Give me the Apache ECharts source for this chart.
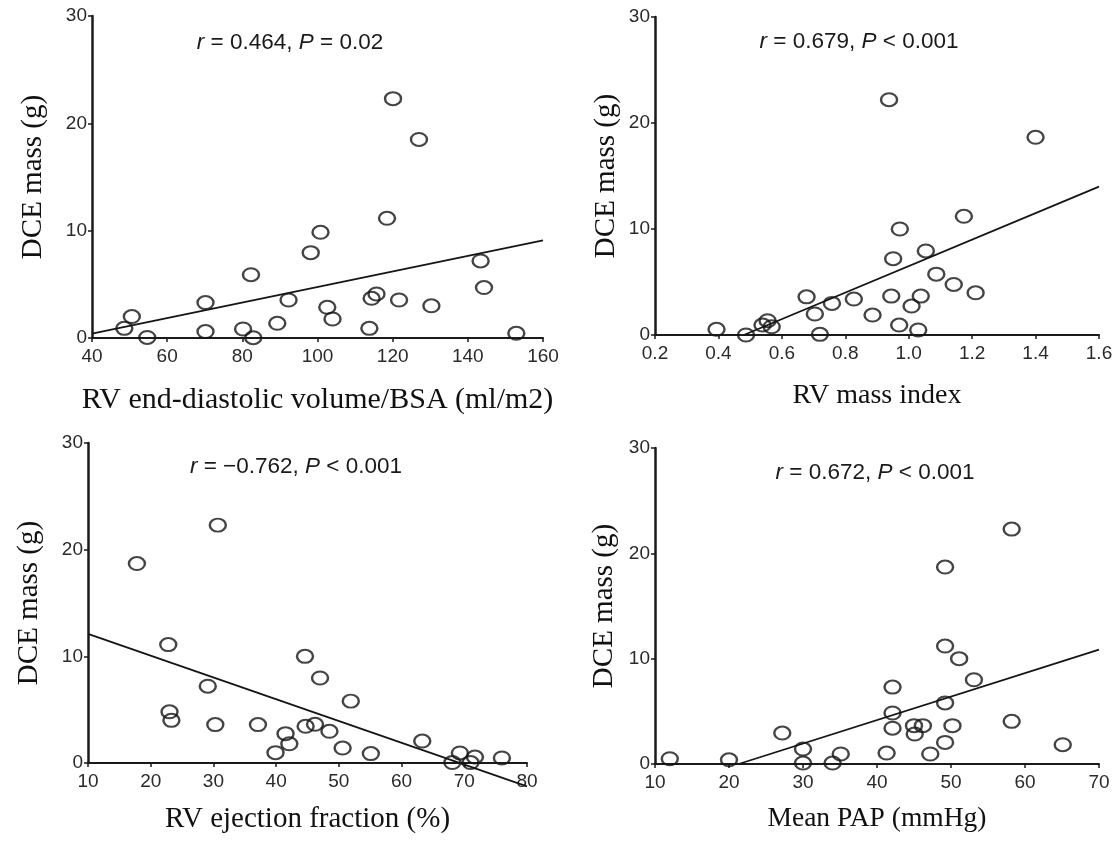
<!DOCTYPE html>
<html>
<head>
<meta charset="utf-8">
<script src="https://cdn.jsdelivr.net/npm/echarts@6/dist/echarts.min.js"></script>
<style>
html,body{margin:0;padding:0;background:#fff;}
#chart{width:1117px;height:847px;}
</style>
</head>
<body>
<div id="chart"></div>
<script>
// Panel A: RV end-diastolic volume/BSA vs DCE mass
const edvX = [48.6, 50.6, 54.7, 70.2, 70.2, 82.3, 80.2, 82.9, 89.3, 92.3, 98.2, 100.8, 120.1, 127.0, 118.5, 143.4, 144.3, 115.7, 114.4, 121.7, 130.3, 102.6, 104.0, 113.8, 152.9];
const edvY = [0.9, 2.0, 0.05, 3.3, 0.6, 5.9, 0.84, 0.03, 1.37, 3.54, 7.95, 9.85, 22.3, 18.5, 11.15, 7.18, 4.7, 4.1, 3.7, 3.54, 3.0, 2.86, 1.77, 0.9, 0.44];
const edvFitX = [40, 160];
const edvFitY = [0.4, 9.1];

// Panel B: RV mass index vs DCE mass
const rvmiX = [0.394, 0.487, 0.539, 0.555, 0.568, 0.678, 0.704, 0.72, 0.758, 0.827, 0.886, 0.938, 0.97, 0.945, 0.951, 0.972, 1.009, 1.038, 1.03, 1.054, 1.087, 1.142, 1.174, 1.211, 1.40];
const rvmiY = [0.54, 0.0, 0.94, 1.35, 0.78, 3.6, 1.98, 0.06, 2.98, 3.39, 1.88, 22.2, 0.94, 3.67, 7.2, 10.0, 2.73, 3.67, 0.47, 7.93, 5.74, 4.77, 11.2, 3.98, 18.65];
const rvmiFitX = [0.48, 1.6];
const rvmiFitY = [0.0, 14.0];

// Panel C: RV ejection fraction vs DCE mass
const efX = [17.8, 30.7, 22.8, 29.1, 23.0, 23.3, 30.3, 37.1, 41.5, 42.1, 39.9, 44.6, 44.7, 47.0, 51.9, 46.2, 48.5, 50.6, 55.1, 63.3, 69.3, 68.1, 71.7, 71.0, 76.0];
const efY = [18.7, 22.3, 11.1, 7.2, 4.8, 4.0, 3.6, 3.6, 2.75, 1.8, 0.97, 10.0, 3.44, 7.97, 5.8, 3.63, 2.97, 1.4, 0.88, 2.06, 0.94, 0.04, 0.56, 0.04, 0.47];
const efFitX = [10, 80];
const efFitY = [12.1, -2.2];

// Panel D: Mean PAP vs DCE mass
const papX = [12.0, 20.0, 27.2, 30.0, 30.0, 34.0, 35.1, 58.2, 49.2, 49.2, 51.1, 53.1, 42.1, 49.2, 42.1, 42.1, 45.0, 46.2, 45.1, 50.2, 49.2, 41.3, 47.2, 58.2, 65.1];
const papY = [0.5, 0.4, 2.94, 1.42, 0.09, 0.09, 0.95, 22.3, 18.7, 11.2, 10.0, 8.0, 7.3, 5.8, 4.84, 3.4, 3.64, 3.64, 2.85, 3.64, 2.05, 1.04, 0.95, 4.05, 1.83];
const papFitX = [21.3, 70];
const papFitY = [0.0, 10.85];

const yName = 'DCE mass (g)';
const xNames = ['RV end-diastolic volume/BSA (ml/m2)', 'RV mass index', 'RV ejection fraction (%)', 'Mean PAP (mmHg)'];
const stats = ['{i|r} = 0.464, {i|P} = 0.02', '{i|r} = 0.679, {i|P} < 0.001', '{i|r} = \u22120.762, {i|P} < 0.001', '{i|r} = 0.672, {i|P} < 0.001'];
const xRanges = [[40, 160, 20], [0.2, 1.6, 0.2], [10, 80, 10], [10, 70, 10]];

const zip = (a, b) => a.map((v, i) => [v, b[i]]);
const pts = [zip(edvX, edvY), zip(rvmiX, rvmiY), zip(efX, efY), zip(papX, papY)];
const fits = [zip(edvFitX, edvFitY), zip(rvmiFitX, rvmiFitY), zip(efFitX, efFitY), zip(papFitX, papFitY)];

const grids = [
  {left: 92, top: 16, width: 451, height: 322},
  {left: 655, top: 17, width: 444, height: 318},
  {left: 88, top: 443, width: 439, height: 320},
  {left: 655, top: 448, width: 444, height: 316}
];
const yGaps = [44, 34, 44, 36];
const xGaps = [47, 47, 42, 41];
const xNameSizes = [30, 28, 29, 27.5];
const statPos = [[290, 31], [859, 30], [296, 455], [875, 461]];

const axisCol = '#1a1a1a';
const tickFont = {fontFamily: 'Liberation Sans', fontSize: 19, color: '#2a2a2a'};

const xAxis = [], yAxis = [], series = [], title = [];
for (let i = 0; i < 4; i++) {
  const r = xRanges[i];
  xAxis.push({
    type: 'value', gridIndex: i, min: r[0], max: r[1], interval: r[2],
    name: xNames[i], nameLocation: 'middle', nameGap: xGaps[i],
    nameTextStyle: {fontFamily: 'Liberation Serif', fontSize: xNameSizes[i], color: '#111'},
    axisLine: {show: true, onZero: false, lineStyle: {color: axisCol, width: 2}},
    axisTick: {show: true, length: 4, lineStyle: {color: axisCol, width: 1.5}},
    axisLabel: Object.assign({margin: 9, formatter: v => i === 1 ? v.toFixed(1) : String(v)}, tickFont),
    splitLine: {show: false}
  });
  yAxis.push({
    type: 'value', gridIndex: i, min: 0, max: 30, interval: 10,
    name: yName, nameLocation: 'middle', nameGap: yGaps[i],
    nameTextStyle: {fontFamily: 'Liberation Serif', fontSize: 29, color: '#111'},
    axisLine: {show: true, onZero: false, lineStyle: {color: axisCol, width: 2.5}},
    axisTick: {show: true, length: 4, lineStyle: {color: axisCol, width: 1.5}},
    axisLabel: Object.assign({margin: 5}, tickFont),
    splitLine: {show: false}
  });
  series.push({
    type: 'scatter', xAxisIndex: i, yAxisIndex: i, data: pts[i],
    symbol: 'circle', symbolSize: [16, 13],
    itemStyle: {color: 'rgba(255,255,255,0)', borderColor: '#151515', borderWidth: 2.2},
    z: 3
  });
  series.push({
    type: 'line', xAxisIndex: i, yAxisIndex: i, data: fits[i],
    showSymbol: false, symbol: 'none', clip: false,
    lineStyle: {color: '#151515', width: 1.8}, z: 2
  });
  title.push({
    text: stats[i], left: statPos[i][0], top: statPos[i][1], textAlign: 'center', padding: 0,
    textStyle: {fontFamily: 'Liberation Sans', fontSize: 22.5, fontWeight: 'normal', color: '#1a1a1a',
      rich: {i: {fontFamily: 'Liberation Sans', fontSize: 22.5, fontStyle: 'italic', color: '#1a1a1a'}}}
  });
}

const chart = echarts.init(document.getElementById('chart'));
chart.setOption({
  backgroundColor: '#fff',
  animation: false,
  title: title,
  grid: grids,
  xAxis: xAxis,
  yAxis: yAxis,
  series: series
});
</script>
</body>
</html>
